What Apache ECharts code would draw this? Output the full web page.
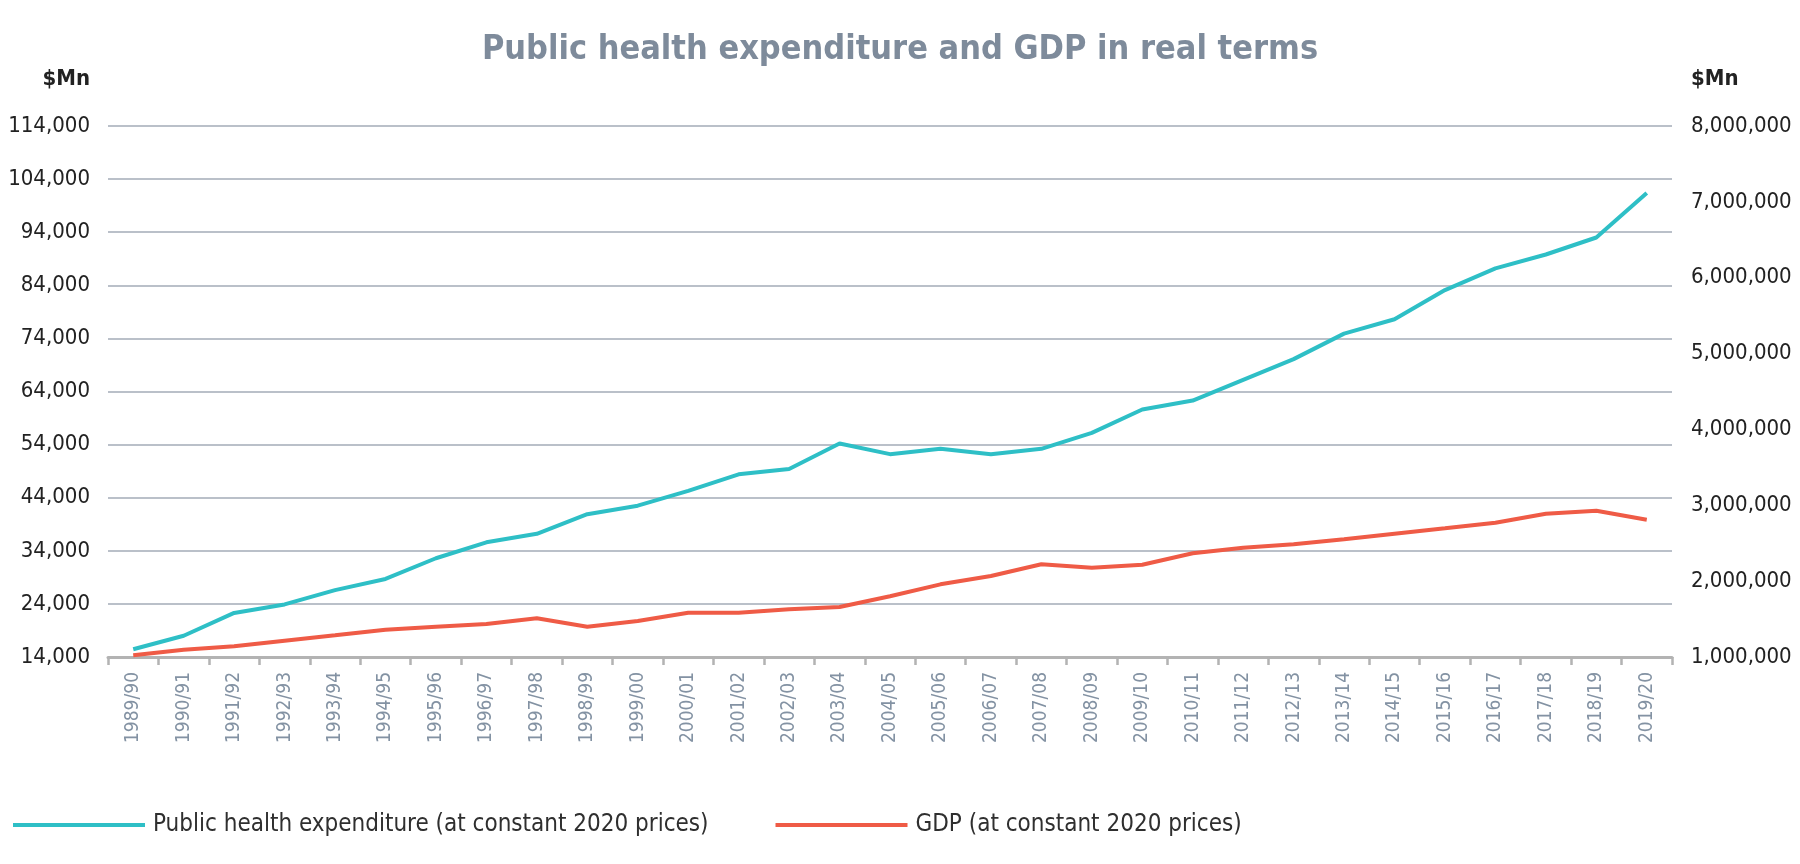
<!DOCTYPE html>
<html>
<head>
<meta charset="utf-8">
<script src="https://cdn.jsdelivr.net/npm/echarts@6/dist/echarts.min.js"></script>
<style>
html,body{margin:0;padding:0;background:#fff;}
#chart{width:1800px;height:864px;}
</style>
</head>
<body>
<div id="chart"></div>
<script>
const years = ['1989/90','1990/91','1991/92','1992/93','1993/94','1994/95','1995/96','1996/97','1997/98','1998/99','1999/00','2000/01','2001/02','2002/03','2003/04','2004/05','2005/06','2006/07','2007/08','2008/09','2009/10','2010/11','2011/12','2012/13','2013/14','2014/15','2015/16','2016/17','2017/18','2018/19','2019/20'];
const healthSpend = [15450,18000,22300,23900,26600,28700,32600,35600,37200,40900,42500,45300,48400,49400,54200,52200,53200,52200,53200,56200,60600,62300,66200,70100,74900,77600,83100,87200,89800,93000,101400];
const gdp = [1022000,1096000,1141000,1215000,1286000,1360000,1400000,1435000,1510000,1400000,1475000,1584000,1584000,1629000,1659000,1800000,1958000,2068000,2222000,2177000,2217000,2367000,2441000,2485000,2551000,2625000,2696000,2770000,2888000,2927000,2810000];
const seriesNames = ['Public health expenditure (at constant 2020 prices)','GDP (at constant 2020 prices)'];
const titleText = 'Public health expenditure and GDP in real terms';
const unitLabel = '$Mn';

const condensed = "'DejaVu Sans Condensed', 'DejaVu Sans', sans-serif";
const chart = echarts.init(document.getElementById('chart'));
chart.setOption({
  animation: false,
  title: {
    text: titleText,
    left: 'center',
    top: 28,
    textStyle: {fontFamily: condensed, fontSize: 34, fontWeight: 'bold', color: '#7e8b9b'}
  },
  legend: {
    left: 8,
    top: 808,
    icon: 'rect',
    itemWidth: 132,
    itemHeight: 4,
    itemGap: 67,
    textStyle: {fontFamily: condensed, fontSize: 24, color: '#2f2f2f', padding: [0,0,0,3]},
    data: seriesNames
  },
  grid: {left: 108, right: 128, top: 126, bottom: 207, containLabel: false},
  xAxis: {
    type: 'category',
    data: years,
    boundaryGap: true,
    axisLine: {lineStyle: {color: '#b3b3b3', width: 3}},
    axisTick: {show: true, length: 8, lineStyle: {color: '#b3b3b3', width: 2.5}},
    axisLabel: {rotate: 90, margin: 15, interval: 0, fontFamily: condensed, fontSize: 19, color: '#8392a3'},
    splitLine: {show: false}
  },
  yAxis: [
    {
      type: 'value',
      min: 14000, max: 114000, interval: 10000,
      name: unitLabel,
      nameLocation: 'end',
      nameGap: 36,
      nameTextStyle: {fontFamily: condensed, fontSize: 22, fontWeight: 'bold', color: '#222', align: 'right', padding: [0,18,0,0]},
      axisLine: {show: false},
      axisTick: {show: false},
      axisLabel: {margin: 18, fontFamily: condensed, fontSize: 22, color: '#222'},
      splitLine: {show: true, lineStyle: {color: '#a3abb7', width: 1.5}}
    },
    {
      type: 'value',
      min: 1000000, max: 8000000, interval: 1000000,
      name: unitLabel,
      nameLocation: 'end',
      nameGap: 36,
      nameTextStyle: {fontFamily: condensed, fontSize: 22, fontWeight: 'bold', color: '#222', align: 'left', padding: [0,0,0,19]},
      axisLine: {show: false},
      axisTick: {show: false},
      axisLabel: {margin: 19, fontFamily: condensed, fontSize: 22, color: '#222'},
      splitLine: {show: false}
    }
  ],
  series: [
    {
      name: seriesNames[0], type: 'line', yAxisIndex: 0, data: healthSpend,
      symbol: 'none', lineStyle: {color: '#2ebfc6', width: 4}, itemStyle: {color: '#2ebfc6'}
    },
    {
      name: seriesNames[1], type: 'line', yAxisIndex: 1, data: gdp,
      symbol: 'none', lineStyle: {color: '#ef5b46', width: 4}, itemStyle: {color: '#ef5b46'}
    }
  ]
});
</script>
</body>
</html>
